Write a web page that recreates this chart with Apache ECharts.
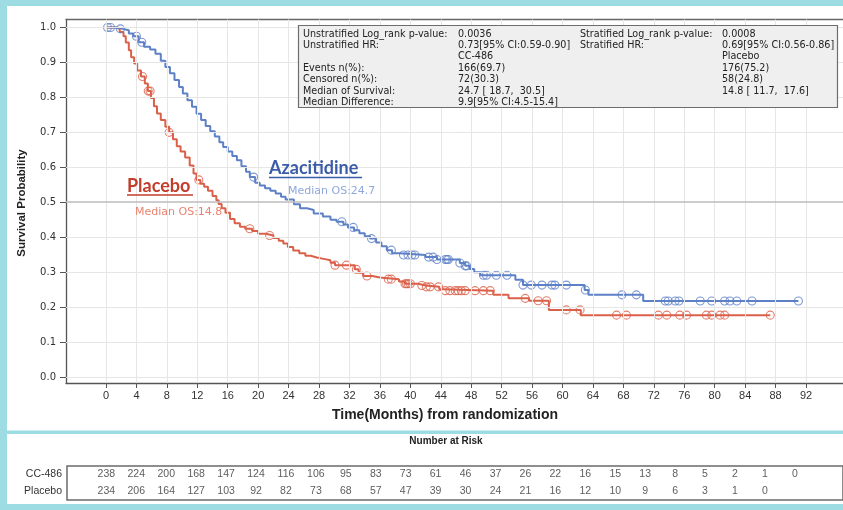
<!DOCTYPE html>
<html>
<head>
<meta charset="utf-8">
<script src="https://cdn.jsdelivr.net/npm/echarts@6/dist/echarts.min.js"></script>
<style>
  html, body { margin: 0; padding: 0; background: #ffffff; }
  #chart { width: 843px; height: 510px; }
</style>
</head>
<body>
<div id="chart"></div>
<script>
// ---- axis ticks ----
const monthTicks = [0, 4, 8, 12, 16, 20, 24, 28, 32, 36, 40, 44, 48, 52, 56, 60, 64, 68, 72, 76, 80, 84, 88, 92];
const survTicks = [0, 0.1, 0.2, 0.3, 0.4, 0.5, 0.6, 0.7, 0.8, 0.9, 1.0];

// ---- Kaplan-Meier estimates: CC-486 (Azacitidine) ----
const ccTime = [0, 1.5, 2.2, 3.0, 3.6, 4.3, 5.0, 5.8, 6.5, 7.2, 7.8, 8.4, 9.0, 9.6, 10.1, 10.7, 11.3, 11.9, 12.5, 13.1,
  13.7, 14.3, 14.9, 15.4, 16.0, 16.6, 17.2, 17.8, 18.4, 18.9, 19.6, 20.2, 20.9, 21.6, 22.3, 23.0, 23.6, 24.7, 25.5, 26.4,
  27.3, 28.5, 29.5, 30.3, 31.2, 31.8, 32.6, 33.3, 34.0, 34.7, 35.5, 36.2, 36.9, 37.6, 38.6, 42.0, 43.5, 46.5, 47.2, 47.8,
  48.4, 49.2, 53.8, 54.8, 62.9, 63.4, 70.6, 91.0];
const ccSurv = [1.0, 0.996, 0.992, 0.983, 0.975, 0.958, 0.945, 0.937, 0.925, 0.905, 0.887, 0.869, 0.850, 0.830, 0.811, 0.792, 0.773, 0.753, 0.735, 0.718,
  0.703, 0.688, 0.672, 0.658, 0.645, 0.632, 0.620, 0.603, 0.587, 0.572, 0.556, 0.548, 0.540, 0.533, 0.525, 0.516, 0.508, 0.494, 0.483, 0.478,
  0.468, 0.459, 0.450, 0.444, 0.436, 0.428, 0.420, 0.411, 0.403, 0.396, 0.385, 0.374, 0.363, 0.354, 0.349, 0.343, 0.336, 0.326, 0.318, 0.309,
  0.300, 0.291, 0.278, 0.263, 0.249, 0.235, 0.2175, 0.2175];
const ccCensor = [0.2, 0.6, 1.9, 4.0, 4.7, 19.4, 31.0, 32.5, 34.9, 37.5, 39.1, 39.7, 40.2, 40.6, 42.4, 43.0, 43.5, 44.6, 44.8, 45.0,
  46.5, 47.2, 47.4, 49.6, 50.0, 51.3, 52.7, 54.8, 55.9, 57.3, 58.6, 59.0, 60.5, 63.0, 67.8, 69.7, 73.5, 73.9, 74.8, 75.3,
  78.1, 79.6, 81.3, 82.0, 82.9, 84.9, 91.0];

// ---- Kaplan-Meier estimates: Placebo ----
const plTime = [0, 1.3, 1.8, 2.3, 2.6, 3.0, 3.3, 3.7, 4.1, 4.6, 5.1, 5.5, 5.9, 6.3, 6.7, 7.2, 7.8, 8.3, 8.8, 9.3,
  9.8, 10.4, 11.0, 11.5, 11.9, 12.4, 12.9, 13.4, 14.0, 14.5, 14.8, 15.2, 15.7, 16.3, 16.9, 17.6, 18.3, 19.2, 20.0, 21.0,
  22.0, 22.7, 23.3, 23.9, 24.6, 25.4, 26.2, 26.9, 27.7, 28.6, 29.5, 30.1, 32.7, 33.2, 33.8, 35.0, 36.0, 38.5, 39.3, 41.0,
  42.0, 43.8, 44.3, 50.9, 52.9, 55.6, 58.2, 62.4, 87.3];
const plSurv = [1.0, 0.996, 0.987, 0.975, 0.957, 0.935, 0.915, 0.897, 0.877, 0.860, 0.840, 0.818, 0.798, 0.775, 0.754, 0.735, 0.716, 0.700, 0.680, 0.660,
  0.645, 0.628, 0.605, 0.582, 0.564, 0.553, 0.544, 0.533, 0.518, 0.506, 0.495, 0.483, 0.470, 0.452, 0.440, 0.430, 0.424, 0.418, 0.410, 0.405,
  0.398, 0.390, 0.382, 0.372, 0.362, 0.354, 0.347, 0.342, 0.338, 0.334, 0.327, 0.320, 0.308, 0.298, 0.289, 0.285, 0.280, 0.273, 0.267, 0.262,
  0.258, 0.251, 0.247, 0.235, 0.225, 0.218, 0.192, 0.177, 0.177];
const plCensor = [4.8, 5.55, 5.8, 8.3, 12.2, 18.9, 21.5, 30.1, 31.6, 32.9, 34.3, 37.1, 37.5, 39.3, 39.5, 39.7, 40.0, 41.5, 42.1, 42.6,
  43.7, 44.6, 45.2, 45.9, 46.3, 46.7, 47.2, 48.5, 49.6, 50.5, 55.1, 56.8, 57.9, 60.5, 62.3, 67.1, 68.4, 72.6, 73.7, 75.4,
  76.3, 78.9, 79.6, 80.7, 81.3, 87.3];

// ---- number at risk ----
const riskRows = ['Placebo', 'CC-486'];
const riskCC = [238, 224, 200, 168, 147, 124, 116, 106, 95, 83, 73, 61, 46, 37, 26, 22, 16, 15, 13, 8, 5, 2, 1, 0];
const riskPlacebo = [234, 206, 164, 127, 103, 92, 82, 73, 68, 57, 47, 39, 30, 24, 21, 16, 12, 10, 9, 6, 3, 1, 0];

// ---- summary statistics panel ----
const statRows = [
  ['Unstratified Log_rank p-value:', '0.0036', 'Stratified Log_rank p-value:', '0.0008'],
  ['Unstratified HR:', '0.73[95% CI:0.59-0.90]', 'Stratified HR:', '0.69[95% CI:0.56-0.86]'],
  ['', 'CC-486', '', 'Placebo'],
  ['Events n(%):', '166(69.7)', '', '176(75.2)'],
  ['Censored n(%):', '72(30.3)', '', '58(24.8)'],
  ['Median of Survival:', '24.7 [ 18.7,  30.5]', '', '14.8 [ 11.7,  17.6]'],
  ['Median Difference:', '9.9[95% CI:4.5-15.4]', '', '']
];
const medianCC = 24.7, medianPl = 14.8;

const BLUE = '#5d80c6', RED = '#db604a';
const BLUE_DARK = '#3b5ca9', RED_DARK = '#c23e2b';
const BLUE_LIGHT = '#8ea8dc', RED_LIGHT = '#e8846f';
const FRAME = '#9edce4';

function survAt(times, surv, t) {
  let s = surv[0];
  for (let i = 0; i < times.length; i++) { if (times[i] <= t) s = surv[i]; else break; }
  return s;
}
const ccLine = ccTime.map((t, i) => [t, ccSurv[i]]);
const plLine = plTime.map((t, i) => [t, plSurv[i]]);
const ccMarks = ccCensor.map(t => [t, survAt(ccTime, ccSurv, t)]);
const plMarks = plCensor.map(t => [t, survAt(plTime, plSurv, t)]);
const riskData = [];
riskCC.forEach((n, i) => riskData.push([monthTicks[i], 'CC-486', n]));
riskPlacebo.forEach((n, i) => riskData.push([monthTicks[i], 'Placebo', n]));

// plot frame geometry
const PX_PER_MONTH = 7.609, PX_PER_UNIT = 349.5;
const G_LEFT = 66, G_TOP = 19.5, G_W = 777, G_H = 363.5;
const X_MIN = -40 / PX_PER_MONTH, X_MAX = X_MIN + G_W / PX_PER_MONTH;
const Y_MAX = 1 + 8 / PX_PER_UNIT, Y_MIN = Y_MAX - G_H / PX_PER_UNIT;

const chart = echarts.init(document.getElementById('chart'), null, { renderer: 'canvas' });

const statText = [];
const colX = [303, 458, 580, 722];
const rowY = [34, 45.5, 56.5, 68, 79.5, 91, 102];
statRows.forEach((row, r) => row.forEach((txt, c) => {
  if (!txt) return;
  statText.push({
    type: 'text', x: colX[c], y: rowY[r], silent: true, z: 12,
    style: { text: txt, fill: '#222', font: '9.6px "DejaVu Sans"', verticalAlign: 'middle' }
  });
}));

const gridLineStyle = { color: '#e6e6e6', width: 1, type: 'solid' };

chart.setOption({
  animation: false,
  backgroundColor: '#ffffff',
  grid: [
    { left: G_LEFT, top: G_TOP, width: G_W, height: G_H },
    { left: 67, top: 466, width: 790, height: 34, show: true, borderColor: '#6a6a6a', borderWidth: 1.5, backgroundColor: 'transparent' }
  ],
  xAxis: [
    {
      type: 'value', gridIndex: 0, min: X_MIN, max: X_MAX,
      axisLine: { show: true, onZero: false, lineStyle: { color: '#555', width: 1.3 } },
      axisTick: { show: true, length: 5, customValues: monthTicks, lineStyle: { color: '#555' } },
      axisLabel: { customValues: monthTicks, color: '#333', fontFamily: '"Liberation Sans Narrow", "Liberation Sans"', fontSize: 11, margin: 7 },
      splitLine: { show: false }
    },
    {
      type: 'value', gridIndex: 0, position: 'top', min: X_MIN, max: X_MAX,
      axisLine: { show: true, onZero: false, lineStyle: { color: '#666', width: 1.3 } },
      axisTick: { show: false }, axisLabel: { show: false }, splitLine: { show: false }
    },
    {
      type: 'value', gridIndex: 1, min: X_MIN, max: X_MIN + 790 / PX_PER_MONTH - 1 / PX_PER_MONTH, show: false
    }
  ],
  yAxis: [
    {
      type: 'value', gridIndex: 0, min: Y_MIN, max: Y_MAX,
      axisLine: { show: true, onZero: false, lineStyle: { color: '#555', width: 1.3 } },
      axisTick: { show: true, length: 6, customValues: survTicks, lineStyle: { color: '#555' } },
      axisLabel: { customValues: survTicks, formatter: v => v.toFixed(1), color: '#333', fontFamily: '"DejaVu Sans"', fontSize: 10, margin: 10 },
      splitLine: { show: false }
    },
    {
      type: 'category', gridIndex: 1, data: riskRows,
      axisLine: { show: false }, axisTick: { show: false },
      axisLabel: { color: '#333', fontFamily: '"Liberation Sans Narrow", "Liberation Sans"', fontSize: 10.5, margin: 5 }
    }
  ],
  series: [
    {
      // reference grid of the survival plot
      type: 'line', xAxisIndex: 0, yAxisIndex: 0, data: [], silent: true,
      markLine: {
        silent: true, symbol: 'none', label: { show: false }, animation: false,
        lineStyle: gridLineStyle,
        data: monthTicks.map(m => ({ xAxis: m })).concat(survTicks.filter(v => v !== 0.5).map(v => ({ yAxis: v })))
      }
    },
    {
      type: 'line', xAxisIndex: 0, yAxisIndex: 0, data: [], silent: true,
      markLine: {
        silent: true, symbol: 'none', label: { show: false }, animation: false,
        lineStyle: { color: '#bdbdbd', width: 1.6, type: 'solid' },
        data: [{ yAxis: 0.5 }]
      }
    },
    {
      name: 'Placebo', type: 'line', step: 'end', xAxisIndex: 0, yAxisIndex: 0, data: plLine,
      showSymbol: false, lineStyle: { color: RED, width: 2 }, itemStyle: { color: RED }, z: 3
    },
    {
      name: 'CC-486', type: 'line', step: 'end', xAxisIndex: 0, yAxisIndex: 0, data: ccLine,
      showSymbol: false, lineStyle: { color: BLUE, width: 2 }, itemStyle: { color: BLUE }, z: 3
    },
    {
      type: 'scatter', xAxisIndex: 0, yAxisIndex: 0, data: plMarks, symbol: 'circle', symbolSize: 8,
      itemStyle: { color: 'rgba(0,0,0,0)', borderColor: RED, borderWidth: 1.1, opacity: 0.8 }, z: 4
    },
    {
      type: 'scatter', xAxisIndex: 0, yAxisIndex: 0, data: ccMarks, symbol: 'circle', symbolSize: 8,
      itemStyle: { color: 'rgba(0,0,0,0)', borderColor: BLUE, borderWidth: 1.1, opacity: 0.8 }, z: 4
    },
    {
      // number-at-risk table
      type: 'scatter', xAxisIndex: 2, yAxisIndex: 1, data: riskData, symbolSize: 0,
      label: {
        show: true, position: 'inside', formatter: p => String(p.data[2]),
        color: '#333', fontFamily: '"Liberation Sans Narrow", "Liberation Sans"', fontSize: 10.5
      }
    }
  ],
  graphic: [
    // frame strips
    { type: 'rect', shape: { x: 0, y: 0, width: 843, height: 6 }, style: { fill: FRAME }, silent: true },
    { type: 'rect', shape: { x: 0, y: 0, width: 7, height: 510 }, style: { fill: FRAME }, silent: true },
    { type: 'rect', shape: { x: 0, y: 430.5, width: 843, height: 3.5 }, style: { fill: FRAME }, silent: true },
    { type: 'rect', shape: { x: 0, y: 504, width: 843, height: 6 }, style: { fill: FRAME }, silent: true },
    // axis titles
    {
      type: 'text', x: 22, y: 203, rotation: Math.PI / 2, silent: true,
      style: { text: 'Survival Probability', fill: '#222', font: 'bold 11.5px "Liberation Sans Narrow", "Liberation Sans"', align: 'center', verticalAlign: 'middle' }
    },
    {
      type: 'text', x: 445, y: 415, silent: true,
      style: { text: 'Time(Months) from randomization', fill: '#222', font: 'bold 14px "Liberation Sans Narrow", "Liberation Sans"', align: 'center', verticalAlign: 'middle' }
    },
    {
      type: 'text', x: 446, y: 441, silent: true,
      style: { text: 'Number at Risk', fill: '#222', font: 'bold 10px "Liberation Sans Narrow", "Liberation Sans"', align: 'center', verticalAlign: 'middle' }
    },
    // curve annotations
    {
      type: 'text', x: 269, y: 168, silent: true, z: 10,
      style: { text: 'Azacitidine', fill: BLUE_DARK, font: 'bold 18px Lato', verticalAlign: 'middle' }
    },
    { type: 'line', shape: { x1: 269, y1: 177.5, x2: 362, y2: 177.5 }, style: { stroke: BLUE_DARK, lineWidth: 1.5 }, silent: true, z: 10 },
    {
      type: 'text', x: 288, y: 191, silent: true, z: 10,
      style: { text: 'Median OS:' + medianCC.toFixed(1), fill: BLUE_LIGHT, font: '11px "DejaVu Sans"', verticalAlign: 'middle' }
    },
    {
      type: 'text', x: 127, y: 186, silent: true, z: 10,
      style: { text: 'Placebo', fill: RED_DARK, font: 'bold 18px Lato', verticalAlign: 'middle' }
    },
    { type: 'line', shape: { x1: 127, y1: 195, x2: 193, y2: 195 }, style: { stroke: RED_DARK, lineWidth: 1.5 }, silent: true, z: 10 },
    {
      type: 'text', x: 135, y: 212, silent: true, z: 10,
      style: { text: 'Median OS:' + medianPl.toFixed(1), fill: RED_LIGHT, font: '11px "DejaVu Sans"', verticalAlign: 'middle' }
    },
    // summary statistics panel
    {
      type: 'rect', shape: { x: 298.5, y: 25.5, width: 539, height: 82 }, silent: true, z: 10,
      style: { fill: '#efefef', stroke: '#6d6d6d', lineWidth: 1.2 }
    }
  ].concat(statText)
});
</script>
</body>
</html>
